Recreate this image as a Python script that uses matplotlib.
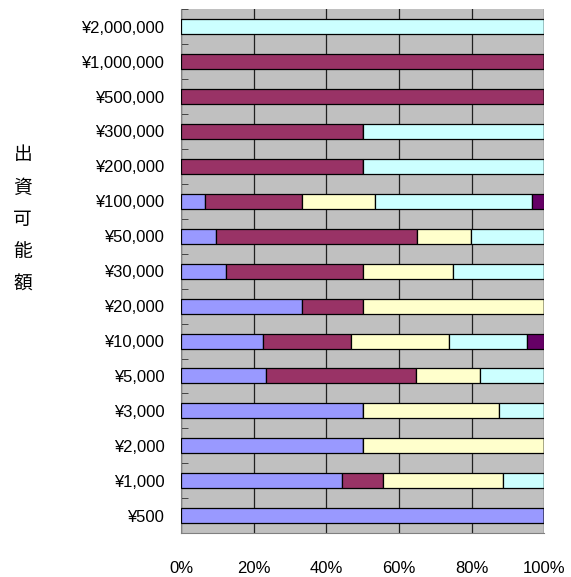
import numpy as np
import matplotlib.pyplot as plt

# 出資可能額ごとの回答割合 (%)
amounts = ["¥500", "¥1,000", "¥2,000", "¥3,000", "¥5,000", "¥10,000", "¥20,000",
           "¥30,000", "¥50,000", "¥100,000", "¥200,000", "¥300,000", "¥500,000",
           "¥1,000,000", "¥2,000,000"]
s1 = [100.0, 44.4, 50.0, 50.0, 23.5, 22.5, 33.3, 12.5, 9.7, 6.7, 0, 0, 0, 0, 0]
s2 = [0, 11.1, 0, 0, 41.2, 24.3, 16.7, 37.5, 55.3, 26.7, 50.0, 50.0, 100.0, 100.0, 0]
s3 = [0, 33.3, 50.0, 37.5, 17.6, 27.1, 50.0, 25.0, 14.9, 20.0, 0, 0, 0, 0, 0]
s4 = [0, 11.1, 0, 12.5, 17.6, 21.3, 0, 25.0, 20.1, 43.3, 50.0, 50.0, 0, 0, 100.0]
s5 = [0, 0, 0, 0, 0, 4.8, 0, 0, 0, 3.3, 0, 0, 0, 0, 0]

series = [s1, s2, s3, s4, s5]
colors = ["#9999FF", "#993366", "#FFFFCC", "#CCFFFF", "#660066"]

fig = plt.figure(figsize=(5.71, 5.77), dpi=100)
ax = fig.add_axes([0.317, 0.076, 0.636, 0.908])
ax.set_facecolor("#C0C0C0")

y = np.arange(len(amounts))
left = np.zeros(len(amounts))
for vals, c in zip(series, colors):
    vals = np.array(vals, dtype=float)
    ax.barh(y, vals, left=left, height=0.43, color=c, edgecolor="black",
            linewidth=0.9, zorder=3)
    left += vals

ax.set_xlim(0, 100)
ax.set_ylim(-0.5, len(amounts) - 0.5)
ax.set_xticks([0, 20, 40, 60, 80, 100])
ax.set_xticklabels(["0%", "20%", "40%", "60%", "80%", "100%"])
ax.grid(axis="x", color="#202020", linewidth=0.9, zorder=1)

ax.set_yticks(y)
ax.set_yticklabels(amounts)
ax.set_yticks(np.arange(len(amounts) + 1) - 0.5, minor=True)
ax.tick_params(axis="y", which="major", length=0, pad=12)
ax.tick_params(axis="y", which="minor", direction="in", length=5, color="#303030")
ax.tick_params(axis="x", length=0, pad=20)

for lab in ax.get_yticklabels() + ax.get_xticklabels():
    lab.set_family(["Liberation Sans", "DejaVu Sans"])
    lab.set_fontsize(12)

for s in ["top", "right"]:
    ax.spines[s].set_visible(False)
ax.spines["left"].set_color("#808080")
ax.spines["bottom"].set_color("#808080")

fig.text(0.04, 0.62, "\n".join("出資可能額"), family=["Noto Sans CJK JP", "DejaVu Sans"],
         fontsize=13.5, ha="center", va="center", linespacing=1.7)

fig.savefig("out.png", dpi=100)
